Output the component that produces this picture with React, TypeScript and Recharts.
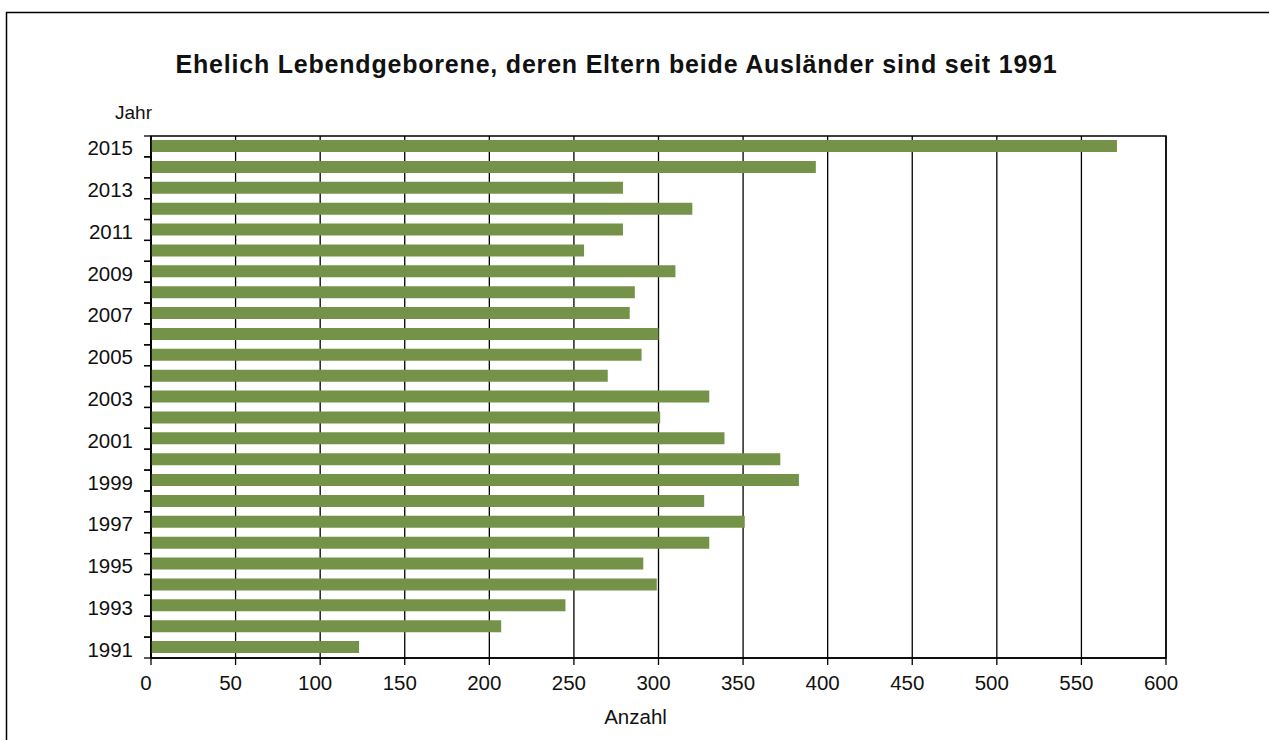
import React from "react";
import { BarChart, Bar, XAxis, YAxis, CartesianGrid, ReferenceArea } from "recharts";

const years = [1991, 1992, 1993, 1994, 1995, 1996, 1997, 1998, 1999, 2000, 2001, 2002, 2003, 2004, 2005, 2006, 2007, 2008, 2009, 2010, 2011, 2012, 2013, 2014, 2015];
const counts = [123, 207, 245, 299, 291, 330, 351, 327, 383, 372, 339, 301, 330, 270, 290, 300, 283, 286, 310, 256, 279, 320, 279, 393, 571];
const xTicks = [0, 50, 100, 150, 200, 250, 300, 350, 400, 450, 500, 550, 600];
const labelledYears = years.filter((y) => y % 2 === 1);

const title = "Ehelich Lebendgeborene, deren Eltern beide Ausländer sind seit 1991";
const yTitle = "Jahr";
const xTitle = "Anzahl";

const data = years.map((year, i) => ({ year: String(year), value: counts[i] }));

const FONT = "'Liberation Sans', Arial, Helvetica, sans-serif";
const BAR_COLOR = "#749349";

const YTick = (props: any) => {
  const { x, y, payload } = props;
  const off = payload && typeof payload.offset === "number" ? payload.offset : 10.4;
  const show = labelledYears.includes(Number(payload.value));
  return (
    <g>
      <line x1={x - 7} x2={x} y1={y - off} y2={y - off} stroke="#000" strokeWidth={1.3} />
      <line x1={x - 7} x2={x} y1={y + off} y2={y + off} stroke="#000" strokeWidth={1.3} />
      {show && (
        <text x={x - 18} y={y + 9} textAnchor="end" fontSize={20.5} fontFamily={FONT} fill="#111">
          {payload.value}
        </text>
      )}
    </g>
  );
};

const XTick = (props: any) => {
  const { x, payload } = props;
  return (
    <text x={x - 5} y={690} textAnchor="middle" fontSize={20.5} fontFamily={FONT} fill="#111">
      {payload.value}
    </text>
  );
};

export default function App() {
  return (
    <div style={{ position: "absolute", left: 0, top: 0, width: 1269, height: 740, background: "#fff" }}>
      <BarChart
        width={1269}
        height={740}
        data={data}
        layout="vertical"
        margin={{ top: 136, right: 103, bottom: 52, left: 91 }}
      >
        <CartesianGrid horizontal={false} vertical={true} stroke="#000" strokeWidth={1.3} />
        <XAxis
          type="number"
          domain={[0, 600]}
          ticks={xTicks}
          interval={0}
          height={30}
          tick={<XTick />}
          tickSize={7}
          tickLine={{ stroke: "#000", strokeWidth: 1.3 }}
          axisLine={{ stroke: "#000", strokeWidth: 1.5 }}
        />
        <YAxis
          type="category"
          dataKey="year"
          reversed
          width={60}
          interval={0}
          tick={<YTick />}
          tickSize={0}
          tickMargin={0}
          tickLine={false}
          axisLine={{ stroke: "#000", strokeWidth: 1.5 }}
        />
        <Bar dataKey="value" fill={BAR_COLOR} barSize={12} isAnimationActive={false} />
        <ReferenceArea x1={0} x2={600} fill="none" stroke="#000" strokeWidth={1.5} ifOverflow="visible" />
      </BarChart>
      <svg
        width={1269}
        height={740}
        style={{ position: "absolute", left: 0, top: 0, pointerEvents: "none" }}
      >
        <path d="M6.5 740 L6.5 12.5 L1269 12.5" fill="none" stroke="#000" strokeWidth={1.5} />
        <text x={616.5} y={73} textAnchor="middle" fontSize={25} letterSpacing={0.8} fontWeight="bold" fontFamily={FONT} fill="#111">
          {title}
        </text>
        <text x={115} y={119} textAnchor="start" fontSize={19} fontFamily={FONT} fill="#111">
          {yTitle}
        </text>
        <text x={635.5} y={724} textAnchor="middle" fontSize={20.5} fontFamily={FONT} fill="#111">
          {xTitle}
        </text>
      </svg>
    </div>
  );
}
